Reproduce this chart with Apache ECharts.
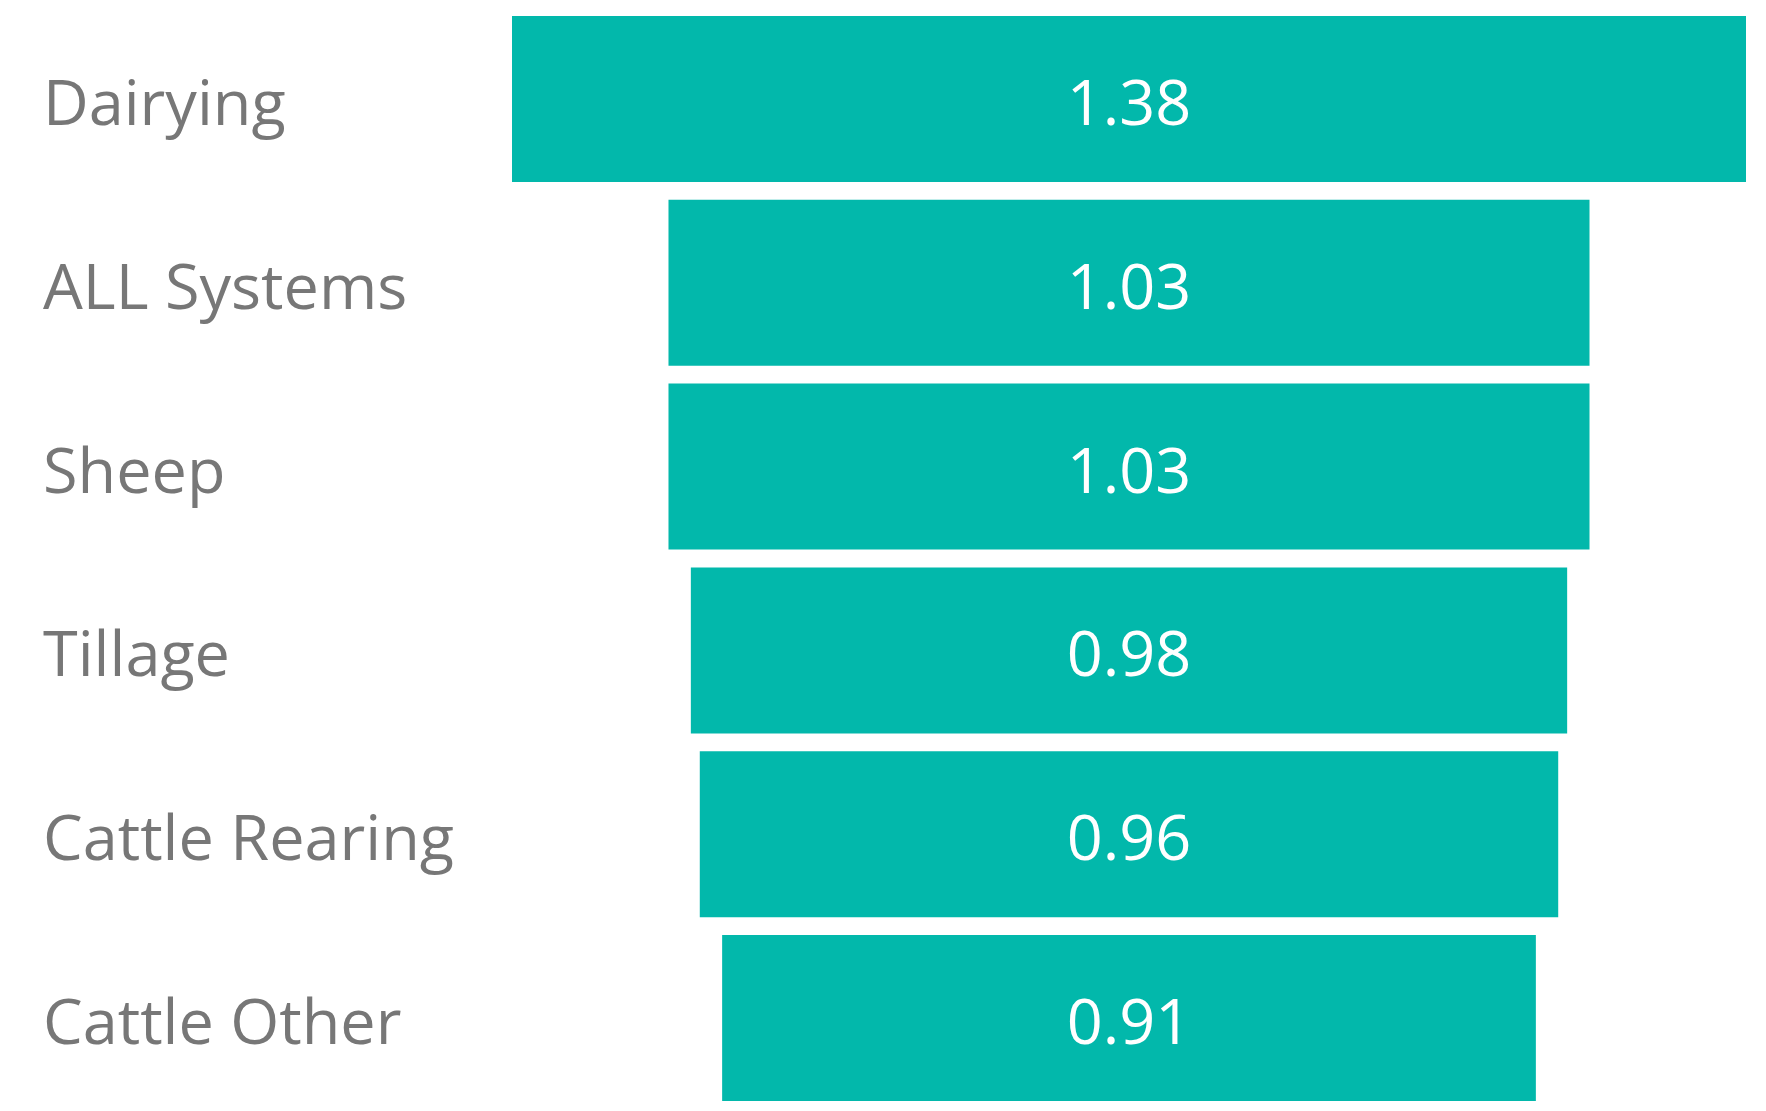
<!DOCTYPE html>
<html>
<head>
<meta charset="utf-8">
<script src="https://cdn.jsdelivr.net/npm/echarts@6/dist/echarts.min.js"></script>
<style>
  html, body { margin: 0; padding: 0; background: #fff; }
  #chart { width: 1766px; height: 1111px; }
</style>
</head>
<body>
<div id="chart"></div>
<script>
const categories = ['Dairying', 'ALL Systems', 'Sheep', 'Tillage', 'Cattle Rearing', 'Cattle Other']
const values = [1.38, 1.03, 1.03, 0.98, 0.96, 0.91]

const maxValue = Math.max.apply(null, values)
// invisible offset so each bar sits centred like a funnel
const offsets = values.map(v => (maxValue - v) / 2)

const chart = echarts.init(document.getElementById('chart'))
chart.setOption({
    animation: false,
    grid: {
        left: 512,
        right: 20,
        top: 7,
        height: 1103
    },
    xAxis: {
        type: 'value',
        min: 0,
        max: maxValue,
        show: false
    },
    yAxis: {
        type: 'category',
        data: categories,
        inverse: true,
        axisLine: { show: false },
        axisTick: { show: false },
        axisLabel: {
            align: 'left',
            verticalAlign: 'top',
            lineHeight: 16,
            margin: 469,
            color: '#777777',
            fontSize: 63,
            fontFamily: 'Open Sans'
        }
    },
    series: [{
        type: 'bar',
        stack: 'funnel',
        data: offsets,
        itemStyle: { color: 'transparent' },
        barCategoryGap: '9.7%',
        silent: true
    }, {
        type: 'bar',
        stack: 'funnel',
        data: values,
        barCategoryGap: '9.7%',
        itemStyle: { color: '#02B8AB' },
        label: {
            show: true,
            position: 'inside',
            color: '#ffffff',
            fontSize: 63,
            fontFamily: 'Open Sans',
            offset: [0, 8],
            formatter: p => p.value.toFixed(2)
        }
    }]
})
</script>
</body>
</html>
